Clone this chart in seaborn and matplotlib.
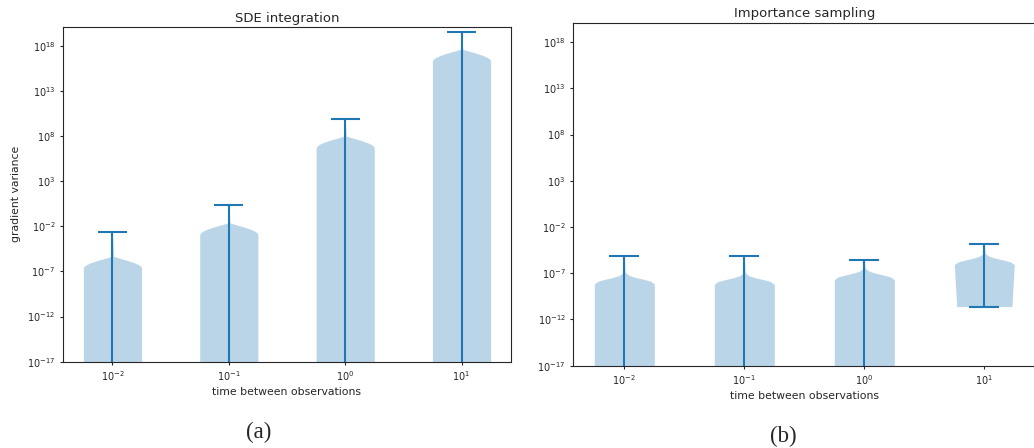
import numpy as np
import matplotlib.pyplot as plt
from matplotlib.ticker import NullLocator
import seaborn as sns

# ============ DATA (log10 of gradient variance) ============
dt_labels = [r"$10^{-2}$", r"$10^{-1}$", r"$10^{0}$", r"$10^{1}$"]
positions = [1, 2, 3, 4]

# SDE integration
sde_tip = [-5.33, -1.62, 8.0, 17.63]    # top of the density body
sde_max = [-2.67, 0.41, 9.86, 19.6]     # upper extreme
sde_min = [-21.0, -21.0, -21.0, -21.0]  # lower extremes are below the axis
sde_base = [1.0, 1.0, 1.0, 1.0]         # relative width at the lower extreme

# Importance sampling
is_tip = [-6.86, -6.9, -6.4, -4.78]
is_max = [-5.09, -5.13, -5.53, -3.84]
is_min = [-21.0, -21.0, -21.0, -10.6]
is_base = [1.0, 1.0, 1.0, 0.92]

# shape of the top of the bodies: decades below tip -> relative width
roof_a_d = [0.0, 0.2, 0.45, 0.7, 0.93, 1.1, 1.3]
roof_a_w = [0.04, 0.25, 0.52, 0.75, 0.9, 0.97, 1.0]
roof_b_d = [0.0, 0.2, 0.4, 0.6, 0.8, 1.0, 1.3]
roof_b_w = [0.03, 0.08, 0.18, 0.38, 0.65, 0.88, 1.0]

BLUE = sns.color_palette("tab10")[0]


def make_stats(tips, tops, lows, bases, roof_d, roof_w):
    stats = []
    for tip, top, low, base in zip(tips, tops, lows, bases):
        levels = [low] + [tip - d for d in roof_d[::-1]] + [top]
        widths = [base] + roof_w[::-1] + [0.0]
        stats.append(dict(coords=10.0 ** np.array(levels), vals=np.array(widths),
                          mean=10.0 ** tip, median=10.0 ** tip,
                          min=10.0 ** low, max=10.0 ** top))
    return stats


sns.set_style("ticks")
plt.rcParams["font.family"] = ["DejaVu Sans"]
plt.rcParams["axes.linewidth"] = 0.8
plt.rcParams["xtick.major.size"] = 2.5
plt.rcParams["ytick.major.size"] = 2.5

fig = plt.figure(figsize=(10.34, 4.48), dpi=100)
ax_a = fig.add_axes([63 / 1034, 86.3 / 448, 448 / 1034, 334.7 / 448])
ax_b = fig.add_axes([573.3 / 1034, 82.3 / 448, 462 / 1034, 343 / 448])

panels = [
    (ax_a, "SDE integration", make_stats(sde_tip, sde_max, sde_min, sde_base, roof_a_d, roof_a_w), 3.5),
    (ax_b, "Importance sampling", make_stats(is_tip, is_max, is_min, is_base, roof_b_d, roof_b_w), 4.3),
]

for ax, title, stats, pad in panels:
    ax.set_yscale("log")
    parts = ax.violin(stats, positions=positions, widths=0.5, showextrema=True)
    for body in parts["bodies"]:
        body.set_facecolor(BLUE)
        body.set_edgecolor(BLUE)
        body.set_alpha(0.3)
        body.set_linewidth(0)
    for key in ["cmaxes", "cmins", "cbars"]:
        parts[key].set_color(BLUE)
        parts[key].set_linewidth(1.5)
    ax.set_xlim(0.575, 4.425)
    ax.set_ylim(1e-17, 10 ** 20.1)
    ax.set_yticks([10.0 ** e for e in range(-17, 19, 5)])
    ax.yaxis.set_minor_locator(NullLocator())
    ax.set_xticks(positions)
    ax.set_xticklabels(dt_labels)
    ax.tick_params(labelsize=7, pad=3)
    ax.set_xlabel("time between observations", fontsize=7.8, labelpad=3)
    ax.set_title(title, fontsize=9.5, pad=pad)

ax_a.set_ylabel("gradient variance", fontsize=7.8, labelpad=4)

fig.text(259 / 1034, 1 - 432 / 448, "(a)", family="Liberation Serif", fontsize=16.5,
         ha="center", va="center")
fig.text(783 / 1034, 1 - 436 / 448, "(b)", family="Liberation Serif", fontsize=16.5,
         ha="center", va="center")

fig.savefig("out.png", dpi=100)
